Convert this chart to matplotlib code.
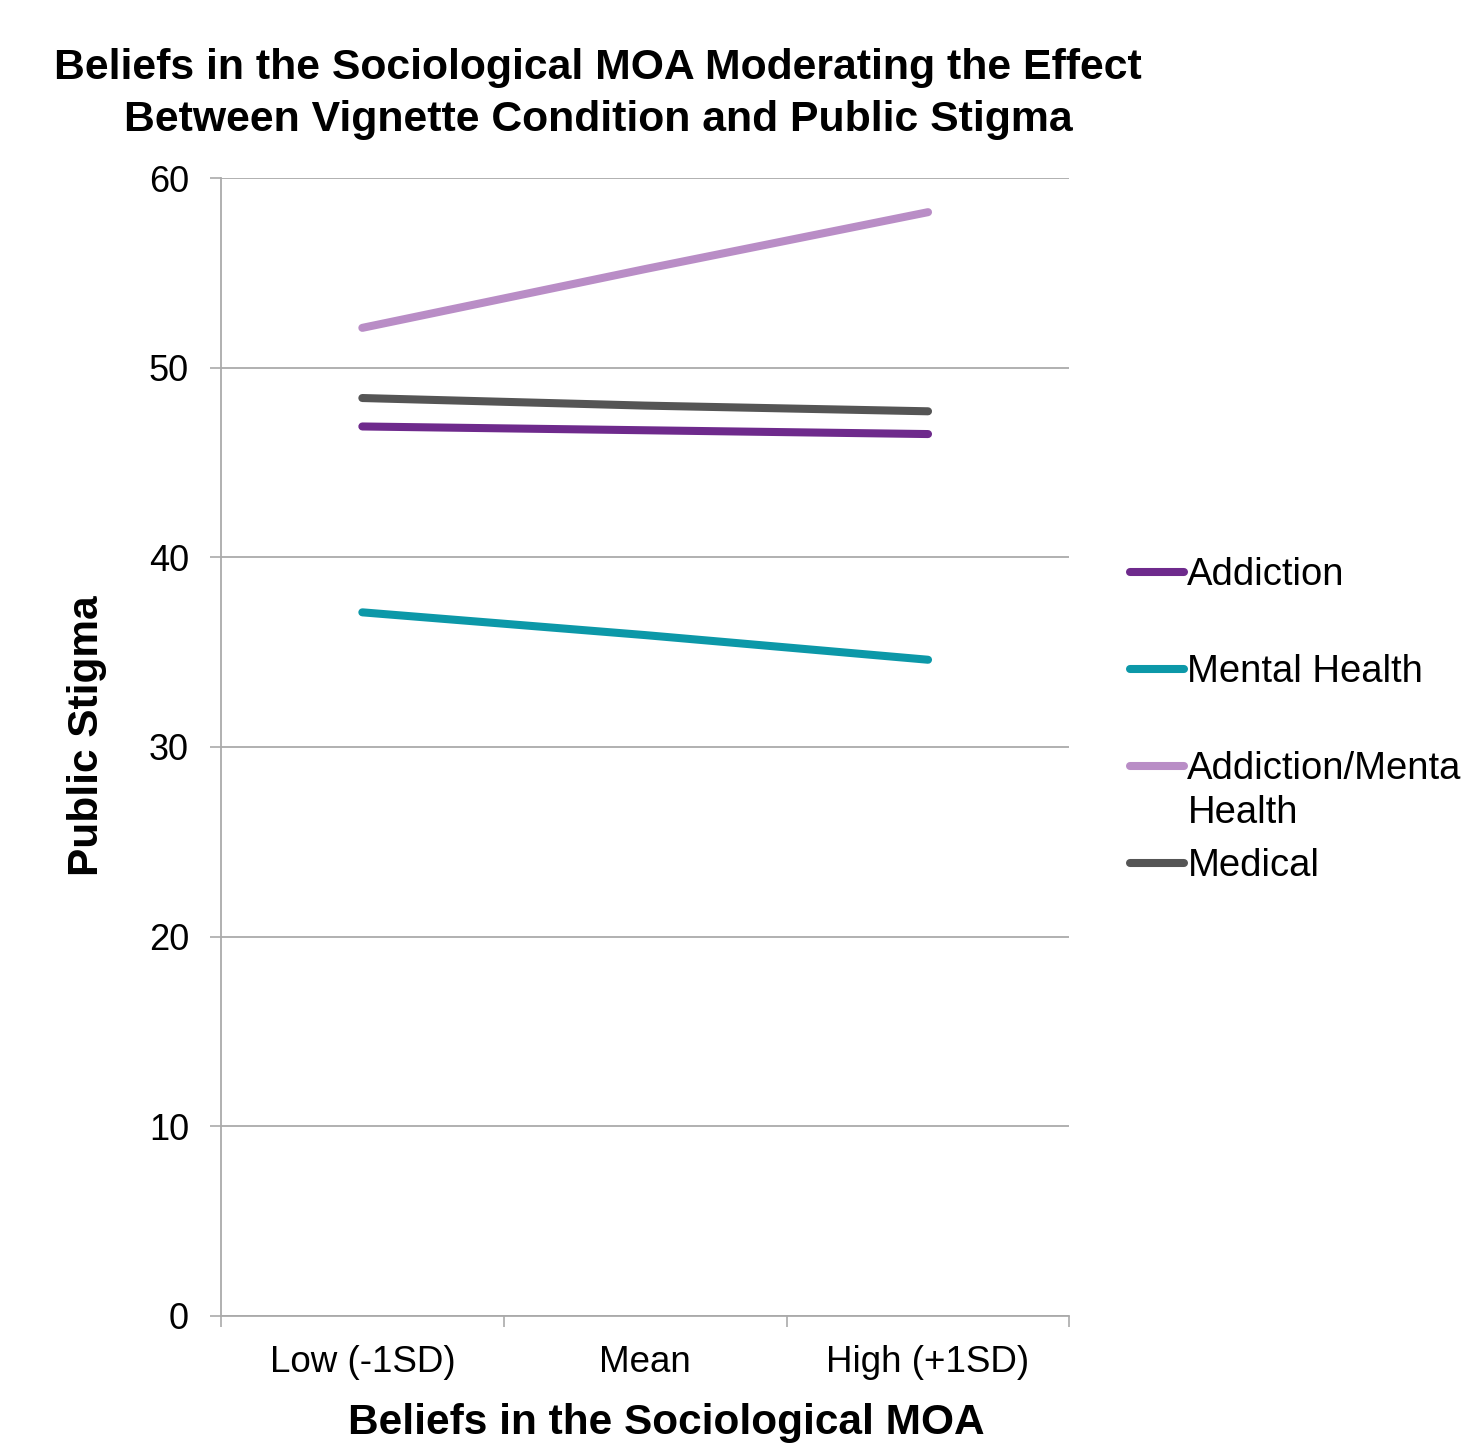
import matplotlib
matplotlib.use("Agg")
import matplotlib.pyplot as plt
from matplotlib.ticker import FixedLocator

plt.rcParams["font.family"] = ["Liberation Sans", "DejaVu Sans"]

# Simple slopes of public stigma at three levels of the moderator
levels = ["Low (-1SD)", "Mean", "High (+1SD)"]
addiction = [46.9, 46.7, 46.5]
mental_health = [37.1, 35.9, 34.6]
addiction_mh = [52.1, 55.2, 58.2]
medical = [48.4, 48.0, 47.7]

series = [
    ("Addiction", addiction, "#6E2A8C"),
    ("Mental Health", mental_health, "#0C98A8"),
    ("Addiction/Mental", addiction_mh, "#B98DC6"),
    ("Medical", medical, "#555555"),
]

fig = plt.figure(figsize=(14.63, 14.45), dpi=100)
ax = fig.add_axes([0.151, 0.0893, 0.580, 0.7875])

x = list(range(len(levels)))
for name, vals, col in series:
    ax.plot(x, vals, color=col, lw=5.8, solid_capstyle="round", label=name)

ax.set_xlim(-0.5, 2.5)
ax.set_ylim(0, 60)
ax.set_yticks(range(0, 61, 10))
ax.yaxis.grid(True, color="#AAAAAA", lw=1.3)
ax.set_axisbelow(True)

ax.set_xticks(x)
ax.set_xticklabels(levels)
ax.xaxis.set_minor_locator(FixedLocator([-0.5, 0.5, 1.5, 2.5]))
ax.tick_params(axis="x", which="major", length=0, pad=21, labelsize=26.5)
ax.tick_params(axis="x", which="minor", length=8, width=1.2, color="#AAAAAA")
ax.tick_params(axis="y", length=8, width=1.2, color="#AAAAAA", pad=15, labelsize=26)

for side in ["top", "right"]:
    ax.spines[side].set_visible(False)
for side in ["left", "bottom"]:
    ax.spines[side].set_color("#AAAAAA")
    ax.spines[side].set_linewidth(1.3)

ax.set_ylabel("Public Stigma", fontsize=30.5, fontweight="bold")
ax.yaxis.set_label_coords(-0.134, 0.51)
ax.set_xlabel("Beliefs in the Sociological MOA", fontsize=30.5, fontweight="bold")
ax.xaxis.set_label_coords(0.525, -0.0765)
fig.text(0.409, 0.9665, "Beliefs in the Sociological MOA Moderating the Effect\nBetween Vignette Condition and Public Stigma",
         ha="center", va="top", fontsize=30.8, fontweight="bold", linespacing=1.37)

leg = ax.legend(loc="upper left", bbox_to_anchor=(0.762, 0.625), bbox_transform=fig.transFigure,
                frameon=False, fontsize=27.5, handlelength=1.42, handletextpad=0.08,
                labelspacing=1.6, borderaxespad=0)

# second line of the long legend label, set just under its first line
fig.canvas.draw()
bb = leg.get_texts()[2].get_window_extent().transformed(fig.transFigure.inverted())
fig.text(bb.x0, bb.y0 - 0.005, "Health", ha="left", va="top", fontsize=27.5)

fig.savefig("out.png", dpi=100)
